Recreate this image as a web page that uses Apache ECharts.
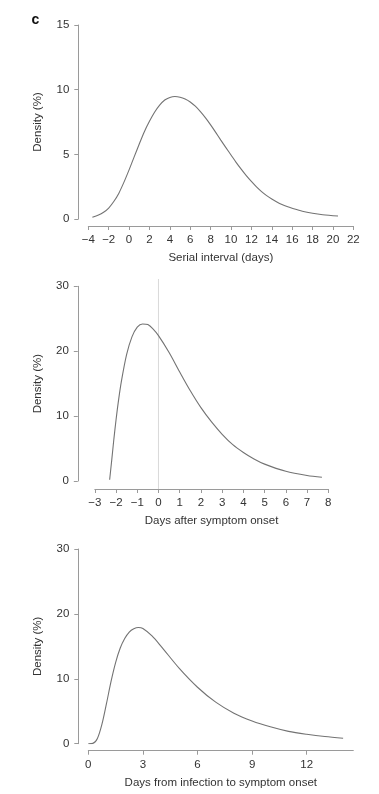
<!DOCTYPE html>
<html style="height: 100%">
<head>
<meta charset="utf-8">
<script src="https://cdn.jsdelivr.net/npm/echarts@6/dist/echarts.min.js"></script>
</head>
<body style="height: 100%; margin: 0; background: #fff">
<div id="container" style="width: 379px; height: 794px"></div>
<script type="text/javascript">
// panel 1: serial interval
var serialX = [-3.6, -3, -2.5, -2, -1.5, -1, -0.5, 0, 0.5, 1, 1.5, 2, 2.5, 3, 3.5, 4, 4.5, 5, 5.5, 6, 6.5, 7, 7.5, 8, 8.5, 9, 9.5, 10, 10.5, 11, 11.5, 12, 12.5, 13, 13.5, 14, 14.5, 15, 15.5, 16, 17, 18, 19, 20.5];
var serialY = [0.13, 0.3, 0.52, 0.85, 1.35, 2.0, 2.85, 3.8, 4.8, 5.8, 6.75, 7.55, 8.25, 8.8, 9.2, 9.4, 9.47, 9.42, 9.28, 9.05, 8.72, 8.3, 7.82, 7.28, 6.7, 6.1, 5.52, 4.95, 4.38, 3.85, 3.35, 2.9, 2.48, 2.12, 1.81, 1.55, 1.32, 1.12, 0.96, 0.83, 0.6, 0.44, 0.33, 0.23];

// panel 2: days after symptom onset
var onsetX = [-2.3, -2.2, -2.1, -2.0, -1.9, -1.75, -1.5, -1.25, -1, -0.75, -0.5, -0.25, 0, 0.5, 1, 1.5, 2, 2.5, 3, 3.5, 4, 4.5, 5, 6, 7, 7.7];
var onsetY = [0.2, 3.3, 6.5, 9.4, 12.0, 15.3, 19.5, 22.2, 23.7, 24.2, 24.1, 23.4, 22.4, 19.8, 16.8, 13.9, 11.3, 9.1, 7.2, 5.6, 4.4, 3.4, 2.6, 1.5, 0.85, 0.57];
var onsetLineX = [0, 0];
var onsetLineY = [0, 1];

// panel 3: days from infection to symptom onset
var incubX = [0, 0.25, 0.5, 0.75, 1, 1.25, 1.5, 1.75, 2, 2.25, 2.5, 2.75, 3, 3.5, 4, 5, 6, 7, 8, 9, 10, 11, 12, 13, 14];
var incubY = [0, 0.05, 0.8, 3.0, 6.2, 9.6, 12.5, 14.7, 16.2, 17.2, 17.7, 17.9, 17.75, 16.6, 15.0, 11.6, 8.7, 6.4, 4.7, 3.5, 2.6, 1.9, 1.45, 1.1, 0.85];
var incubTicks = [0, 3, 6, 9, 12];

var axisGray = '#9a9a9a';
var textGray = '#333';
var curveGray = '#737373';
var font = '"Liberation Sans", Arial, sans-serif';
var fs = 11.5;

function pairs(xs, ys) {
    return xs.map(function (x, i) { return [x, ys[i]]; });
}
function minus(v) {
    return String(v).replace('-', '\u2212');
}
function xAx(idx, min, max, interval, name, offset) {
    return {
        type: 'value', gridIndex: idx, min: min, max: max, interval: interval,
        offset: offset,
        name: name, nameLocation: 'middle', nameGap: 26,
        nameTextStyle: {fontSize: fs, color: textGray, fontFamily: font},
        axisLine: {onZero: false, lineStyle: {color: axisGray, width: 1}},
        axisTick: {length: 4, lineStyle: {color: axisGray}},
        axisLabel: {fontSize: fs, color: textGray, margin: 8, fontFamily: font, formatter: minus},
        splitLine: {show: false}
    };
}
function yAx(idx, max, interval, offset) {
    return {
        type: 'value', gridIndex: idx, min: 0, max: max, interval: interval,
        offset: offset,
        name: 'Density (%)', nameLocation: 'middle', nameGap: 34,
        nameTextStyle: {fontSize: fs, color: textGray, fontFamily: font},
        axisLine: {onZero: false, lineStyle: {color: axisGray, width: 1}},
        axisTick: {length: 4, lineStyle: {color: axisGray}},
        axisLabel: {fontSize: fs, color: textGray, margin: 9, fontFamily: font},
        splitLine: {show: false}
    };
}
function curve(idx, data) {
    return {
        type: 'line', xAxisIndex: idx, yAxisIndex: idx, data: data,
        showSymbol: false, smooth: 0.3, silent: true,
        lineStyle: {color: curveGray, width: 1.1}
    };
}

var chart = echarts.init(document.getElementById('container'), null, {renderer: 'canvas'});

var x3 = xAx(2, 0, 14.56, null, 'Days from infection to symptom onset', 7);
delete x3.interval;
x3.axisTick.customValues = incubTicks;
x3.axisLabel.customValues = incubTicks;

var option = {
    animation: false,
    textStyle: {fontFamily: font},
    graphic: [{
        type: 'text', left: 31.5, top: 13.5,
        style: {text: 'c', font: 'bold 14px ' + font, fill: '#111'}
    }],
    grid: [
        {left: 88.3, top: 25, width: 265, height: 194},
        {left: 94.8, top: 286.3, width: 233.5, height: 194.7},
        {left: 88.3, top: 549, width: 265, height: 194.7},
        {left: 94.8, top: 279, width: 233.5, height: 210}
    ],
    xAxis: [
        xAx(0, -4, 22, 2, 'Serial interval (days)', 7),
        xAx(1, -3, 8, 1, 'Days after symptom onset', 8),
        x3,
        {type: 'value', gridIndex: 3, min: -3, max: 8, show: false}
    ],
    yAxis: [
        yAx(0, 15, 5, 10),
        yAx(1, 30, 10, 17),
        yAx(2, 30, 10, 10),
        {type: 'value', gridIndex: 3, min: 0, max: 1, show: false}
    ],
    series: [
        {
            type: 'line', xAxisIndex: 3, yAxisIndex: 3, data: pairs(onsetLineX, onsetLineY),
            showSymbol: false, silent: true, lineStyle: {color: '#d9d9d9', width: 1}
        },
        curve(0, pairs(serialX, serialY)),
        curve(1, pairs(onsetX, onsetY)),
        curve(2, pairs(incubX, incubY))
    ]
};
chart.setOption(option);
</script>
</body>
</html>
